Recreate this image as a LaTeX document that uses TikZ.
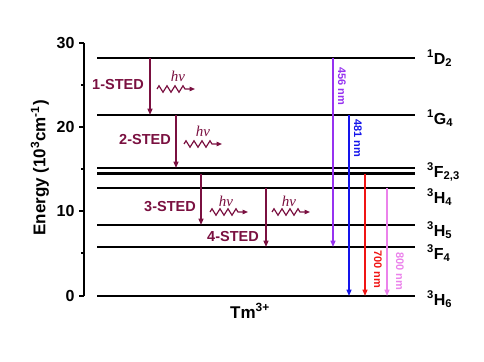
\documentclass[tikz,border=0pt]{standalone}
\usepackage{fontspec}
\setmainfont{Liberation Sans}
\setsansfont{Liberation Sans}
\newfontfamily\hvfont{Liberation Serif}
\usetikzlibrary{arrows.meta, decorations.pathmorphing}

\definecolor{stedred}{RGB}{122,16,64}
\definecolor{violet456}{RGB}{150,50,240}
\definecolor{blue481}{RGB}{20,20,235}
\definecolor{red700}{RGB}{240,20,20}
\definecolor{pink800}{RGB}{235,130,235}

\tikzset{
    level/.style={line width=2.5pt},
    levlab/.style={anchor=base west, inner sep=0pt, font=\fontsize{16}{16}\selectfont\bfseries},
    sted/.style={stedred, line width=1.4pt, -{Triangle[length=6.5pt,width=5pt]}},
    stedlab/.style={stedred, font=\fontsize{14.5}{14.5}\selectfont\bfseries},
    emis/.style={line width=1.4pt, -{Triangle[length=6.5pt,width=5pt]}},
    nmlab/.style={rotate=-90, inner sep=0pt, font=\fontsize{11}{11}\selectfont\bfseries},
    photon/.style={stedred, line width=1.2pt, decorate,
        decoration={zigzag, segment length=8pt, amplitude=3.2pt, post length=9pt},
        -{Triangle[length=5.5pt,width=4.5pt]}},
    hvlab/.style={stedred, font=\hvfont\fontsize{15}{15}\selectfont\itshape}
}

\begin{document}
\begin{tikzpicture}[x=1pt, y=-1pt]
    \useasboundingbox (0,0) rectangle (484,361);
    \draw [line width=1.4pt] (84,43)--(84,296);
    \foreach \yy/\val in {43/30, 127/20, 211/10, 296/0}{
        \draw [line width=1.4pt] (84,\yy)--(79,\yy);
        \node [anchor=east, font=\fontsize{16}{16}\selectfont\bfseries] at (78,\yy) {\val};
    }
    \foreach \yy in {85, 169, 253}
        \draw [line width=1.4pt] (84,\yy)--(81,\yy);
    \node [rotate=90, font=\fontsize{17}{17}\selectfont\bfseries] (elabel) at (40,168)
        {Energy (10\textsuperscript{3}cm\textsuperscript{-1})};

    \coordinate (D2) at (97,58);
    \coordinate (G4) at (97,115);
    \coordinate (F2) at (97,168);
    \coordinate (F3) at (97,173.5);
    \coordinate (H4) at (97,188);
    \coordinate (H5) at (97,225);
    \coordinate (F4) at (97,247);
    \coordinate (H6) at (97,296);
    \foreach \lv in {D2, G4, F2, F3, H4, H5, F4, H6}
        \draw [level] (\lv)--++(318,0);

    \node [levlab] (lD2) at (427,64) {\textsuperscript{1}D\textsubscript{2}};
    \node [levlab] (lG4) at (427,124) {\textsuperscript{1}G\textsubscript{4}};
    \node [levlab] (lF23) at (427,177) {\textsuperscript{3}F\textsubscript{2,3}};
    \node [levlab] (lH4) at (427,203) {\textsuperscript{3}H\textsubscript{4}};
    \node [levlab] (lH5) at (427,236) {\textsuperscript{3}H\textsubscript{5}};
    \node [levlab] (lF4) at (427,259) {\textsuperscript{3}F\textsubscript{4}};
    \node [levlab] (lH6) at (427,305) {\textsuperscript{3}H\textsubscript{6}};

    \draw [sted] (150,0 |- D2)--(150,0 |- G4);
    \draw [sted] (176,0 |- G4)--(176,0 |- F2);
    \draw [sted] (201,0 |- F3)--(201,0 |- H5);
    \draw [sted] (266,0 |- H4)--(266,0 |- F4);
    \node [stedlab] (s1) at (118,85) {1-STED};
    \node [stedlab] (s2) at (145,140) {2-STED};
    \node [stedlab] (s3) at (170,207) {3-STED};
    \node [stedlab] (s4) at (233,237) {4-STED};

    \node [hvlab] (hv1) at (178,76) {hv};
    \node [hvlab] (hv2) at (203,131) {hv};
    \node [hvlab] (hv3) at (226,201) {hv};
    \node [hvlab] (hv4) at (289,201) {hv};
    \coordinate (w1) at (157,89);
    \coordinate (w2) at (184,144);
    \coordinate (w3) at (210,212);
    \coordinate (w4) at (272,212);
    \foreach \w in {w1, w2, w3, w4}
        \draw [photon] (\w)--++(38,0);

    \draw [emis, violet456] (333,0 |- D2)--(333,0 |- F4);
    \draw [emis, blue481] (349,0 |- G4)--(349,0 |- H6);
    \draw [emis, red700] (365,0 |- F3)--(365,0 |- H6);
    \draw [emis, pink800] (387,0 |- H4)--(387,0 |- H6);
    \node [nmlab, violet456] (n456) at (342,86) {456 nm};
    \node [nmlab, blue481] (n481) at (358,138) {481 nm};
    \node [nmlab, red700] (n700) at (378,269) {700 nm};
    \node [nmlab, pink800] (n800) at (400,271) {800 nm};

    \node [anchor=base, font=\fontsize{17}{17}\selectfont\bfseries] (ion) at (250,318)
        {Tm\textsuperscript{3+}};
\end{tikzpicture}
\end{document}
